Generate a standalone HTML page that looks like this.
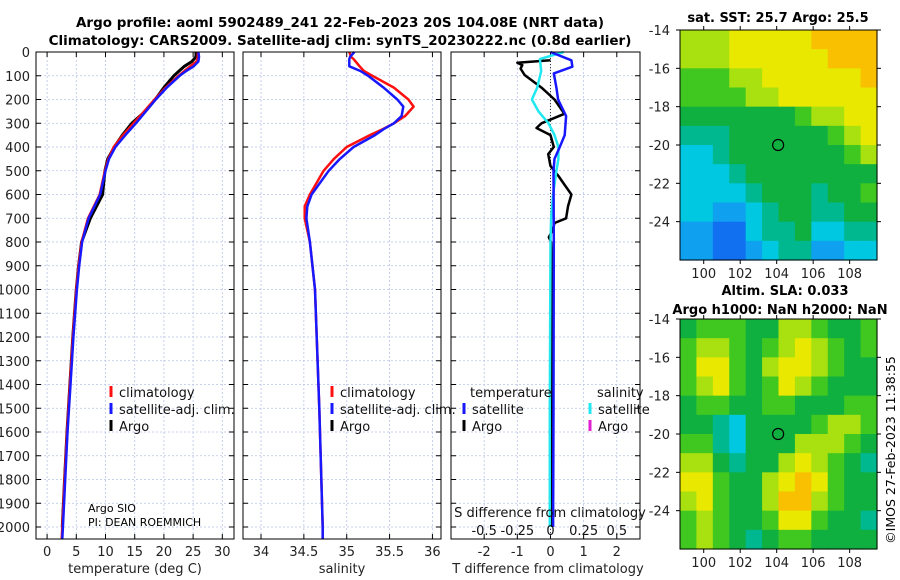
<!DOCTYPE html>
<html><head><meta charset="utf-8">
<style>
html,body{margin:0;padding:0;background:#fff;}
svg{display:block;font-family:"DejaVu Sans","Liberation Sans",sans-serif;}
</style></head>
<body>
<svg id="chart" width="900" height="580" viewBox="0 0 900 580" xmlns="http://www.w3.org/2000/svg">
<text x="340" y="27" text-anchor="middle" font-size="13.5" font-weight="bold">Argo profile: aoml 5902489_241 22-Feb-2023 20S 104.08E (NRT data)</text>
<text x="340" y="45" text-anchor="middle" font-size="13.5" font-weight="bold">Climatology: CARS2009. Satellite-adj clim: synTS_20230222.nc (0.8d earlier)</text>
<text x="778" y="22" text-anchor="middle" font-size="13" font-weight="bold">sat. SST: 25.7 Argo: 25.5</text>
<text x="785" y="295" text-anchor="middle" font-size="13" font-weight="bold">Altim. SLA: 0.033</text>
<text x="780" y="314" text-anchor="middle" font-size="13" font-weight="bold">Argo h1000: NaN h2000: NaN</text>
<text transform="translate(895,450) rotate(-90)" text-anchor="middle" font-size="12.5">©IMOS 27-Feb-2023 11:38:55</text>
<g id="plots"></g>
</svg>
<script>
// ---- profile data ----
const tDepth = [0,20,40,60,80,100,150,200,250,300,350,400,450,500,600,700,800,900,1000,1200,1400,1600,1800,2000,2050];
const tClim  = [25.8,25.8,25.6,24.5,23.5,22.5,20.3,18.4,16.6,14.8,13.0,11.4,10.5,9.9,9.0,7.0,5.9,5.4,5.0,4.4,3.9,3.4,3.0,2.6,2.5];
const tSat   = [25.9,26.0,25.9,25.1,23.8,22.7,20.5,18.6,16.9,15.2,13.4,11.7,10.6,10.0,9.1,7.1,6.0,5.5,5.1,4.5,4.0,3.5,3.1,2.7,2.6];
const tArgo  = [25.5,25.5,24.8,23.5,22.6,21.7,20.0,18.5,16.8,14.5,12.9,11.5,10.4,9.9,9.5,7.4,5.9,5.4,5.0,4.4,3.9,3.4,3.0,2.6];
const sDepth = [0,20,30,60,80,100,150,200,230,270,300,325,350,400,450,500,600,650,700,800,1000,1500,2000,2050];
const sClim  = [35.03,35.05,35.08,35.15,35.2,35.3,35.55,35.72,35.78,35.68,35.55,35.42,35.27,35.0,34.85,34.73,34.57,34.51,34.51,34.57,34.63,34.68,34.72,34.72];
const sSat   = [35.09,35.04,35.03,35.03,35.16,35.25,35.43,35.59,35.66,35.64,35.55,35.43,35.33,35.08,34.92,34.79,34.59,34.54,34.53,34.57,34.63,34.68,34.72,34.72];
const dTArgoDepth = [35,45,55,70,97,150,200,260,300,320,350,400,430,480,520,560,600,650,700,720,750,780,800,1000,1500,2000];
const dTArgo = [0,-1.0,-0.85,-0.9,-0.78,-0.27,0.12,0.42,-0.27,-0.42,0,0.1,-0.07,0,0.23,0.43,0.63,0.53,0.47,0.12,0.06,-0.05,0.02,0.05,0.05,0.04];
const dTSatDepth = [0,35,62,90,150,200,270,350,400,450,500,800,1500,2000];
const dTSat = [0,0.63,0.66,0.1,0.18,0.23,0.47,0.43,0.28,0.12,0.09,0.1,0.09,0.08];
const dSSatDepth = [0,30,80,150,200,250,300,350,400,450,500,600,700,800,1500,2000];
const dSSat = [0.1,-0.08,-0.07,-0.1,-0.14,-0.09,-0.015,0.03,0.06,0.06,0.045,0.02,0.005,0,-0.005,-0.005];
const depthTicks = [0,100,200,300,400,500,600,700,800,900,1000,1100,1200,1300,1400,1500,1600,1700,1800,1900,2000];
const tTicks = [0,5,10,15,20,25,30];
const sTicks = [34,34.5,35,35.5,36];
const sTickLabels = ["34","34.5","35","35.5","36"];
const dtTicks = [-2,-1,0,1,2];
const dsTicks = [-0.5,-0.25,0,0.25,0.5];
const dsTickLabels = ["-0.5","-0.25","0","0.25","0.5"];
// ---- map data (colour index 0..10) ----
const sstGrid = [
[7,7,7,8,8,8,8,8,9,9,9,9],
[7,7,7,8,8,8,8,8,8,9,9,9],
[6,6,6,7,7,8,8,8,8,8,8,9],
[6,6,6,6,7,7,8,8,8,8,8,8],
[5,5,5,5,5,5,5,6,7,7,8,8],
[4,4,4,5,5,5,5,5,5,6,7,8],
[3,3,4,5,5,5,5,5,5,5,6,7],
[3,3,3,4,5,5,5,5,5,5,5,5],
[3,3,3,3,4,5,5,5,4,5,5,6],
[3,3,2,2,3,4,5,5,4,4,5,5],
[2,2,1,1,3,4,4,5,3,3,4,4],
[2,2,1,1,2,3,4,4,2,2,3,3]];
const slaGrid = [
[5,6,6,6,5,5,7,7,6,5,5,6],
[6,7,7,6,5,6,7,8,7,6,5,6],
[6,8,8,6,5,7,8,8,7,6,5,5],
[6,7,8,6,5,6,8,7,6,5,5,5],
[5,6,6,5,5,6,6,5,5,5,6,6],
[5,5,4,3,5,5,5,5,6,7,7,6],
[6,6,4,3,5,5,5,7,7,7,6,5],
[7,7,5,4,5,5,7,8,7,6,5,4],
[8,8,6,5,5,7,8,9,8,6,5,5],
[7,8,6,5,5,7,9,9,7,6,5,5],
[6,7,6,5,5,6,8,8,6,5,5,4],
[6,7,6,5,4,5,6,6,5,5,5,5]];
const palette = ["#1048e0","#1070f0","#10a0f0","#00c8e0","#00b890","#10b040","#40c820","#a8e010","#e8e800","#f8c000","#f89000"];
const lonTicks = [100,102,104,106,108];
const latTicks = [-14,-16,-18,-20,-22,-24];
const argoLon = 104.08, argoLat = -20;

const NS="http://www.w3.org/2000/svg";
const root=document.getElementById('plots');
function mk(tag,attrs,parent){const e=document.createElementNS(NS,tag);for(const k in attrs)e.setAttribute(k,attrs[k]);(parent||root).appendChild(e);return e;}
function txt(s,x,y,attrs,parent){const e=mk('text',Object.assign({x:x,y:y,'font-size':13},attrs),parent);e.textContent=s;return e;}

const yTop=52,yBot=539;
function yD(d){return yTop+d*0.2375;}

function panel(name,x0,x1,xmin,xmax){
  const g=mk('g',{});
  
  
  const sx=v=>x0+(v-xmin)/(xmax-xmin)*(x1-x0);
  return {g,sx,x0,x1};
}
function frame(p,xt,xtl,showY){
  const g=p.g;
  // grid
  xt.forEach(v=>{const gl=mk('line',{x1:p.sx(v),x2:p.sx(v),y1:yTop,y2:yBot,stroke:'#b8c4e8','stroke-width':0.8,'stroke-dasharray':'2,2'},g);});
  depthTicks.forEach(d=>{const gl=mk('line',{x1:p.x0,x2:p.x1,y1:yD(d),y2:yD(d),stroke:'#b8c4e8','stroke-width':0.8,'stroke-dasharray':'2,2'},g);
    mk('line',{x1:p.x0,x2:p.x0+5,y1:yD(d),y2:yD(d),stroke:'#000'},g);mk('line',{x1:p.x1,x2:p.x1-5,y1:yD(d),y2:yD(d),stroke:'#000'},g);
    if(showY){const t=txt(String(d),30,yD(d)+5,{'text-anchor':'end','fill':'#222'},g);}
  });
  xt.forEach((v,i)=>{mk('line',{x1:p.sx(v),x2:p.sx(v),y1:yBot,y2:yBot-5,stroke:'#000'},g);mk('line',{x1:p.sx(v),x2:p.sx(v),y1:yTop,y2:yTop+5,stroke:'#000'},g);
    if(xtl){const t=txt(xtl[i],p.sx(v),556,{'text-anchor':'middle','fill':'#222'},g);}});
}
function border(p){const r=mk('rect',{x:p.x0,y:yTop,width:p.x1-p.x0,height:yBot-yTop,fill:'none',stroke:'#000','stroke-width':1},p.g);}
function line(p,xs,ds,color,w,name,scale){
  const pts=xs.map((v,i)=>p.sx(v*(scale||1)).toFixed(1)+','+yD(ds[i]).toFixed(1)).join(' ');
  const e=mk('polyline',{points:pts,fill:'none',stroke:color,'stroke-width':w,'stroke-linejoin':'round'},p.g);
  
  
}
function legend(g,x,y,color,label){
  mk('rect',{x:x-1.5,y:y-11,width:3,height:11,fill:color},g);
  const t=txt(label,x+8,y,{'fill':'#111'},g);
  
  
}

// Panel 1: temperature
const p1=panel('temperature-panel',36,234,-1.9,32);
frame(p1,tTicks,tTicks.map(String),true);
line(p1,tArgo,tDepth.slice(0,tArgo.length),'#000',3,'argo-temperature-line');
line(p1,tClim,tDepth,'#ff1010',2.5,'climatology-temperature-line');
line(p1,tSat,tDepth,'#1818ff',2.5,'satellite-temperature-line');
border(p1);
legend(p1.g,111,397,'#ff1010','climatology');
legend(p1.g,111,414,'#1818ff','satellite-adj. clim.');
legend(p1.g,111,431,'#000','Argo');
txt('Argo SIO',88,512,{'font-size':11},p1.g);
txt('PI: DEAN ROEMMICH',88,526,{'font-size':11},p1.g);
txt('temperature (deg C)',135,573,{'text-anchor':'middle','fill':'#222'},p1.g);

// Panel 2: salinity
const p2=panel('salinity-panel',243,441,33.79,36.1);
frame(p2,sTicks,sTickLabels,false);
line(p2,sClim,sDepth,'#ff1010',2.5,'climatology-salinity-line');
line(p2,sSat,sDepth,'#1818ff',2.5,'satellite-salinity-line');
border(p2);
legend(p2.g,332,397,'#ff1010','climatology');
legend(p2.g,332,414,'#1818ff','satellite-adj. clim.');
legend(p2.g,332,431,'#000','Argo');
txt('salinity',342,573,{'text-anchor':'middle','fill':'#222'},p2.g);

// Panel 3: differences (T units; S scaled x4)
const p3=panel('difference-panel',451,640,-3.0,2.7);
frame(p3,dtTicks,dtTicks.map(String),false);
mk('line',{x1:p3.sx(0),x2:p3.sx(0),y1:yTop,y2:yBot,stroke:'#333','stroke-width':1,'stroke-dasharray':'1,2'},p3.g);
line(p3,dTArgo,dTArgoDepth,'#000',2.5,'argo-temperature-difference-line');
line(p3,dSSat,dSSatDepth,'#20e8f0',2.5,'satellite-salinity-difference-line',4);
line(p3,dTSat,dTSatDepth,'#1818ff',2.5,'satellite-temperature-difference-line');
border(p3);
txt('temperature',470,397,{'fill':'#111'},p3.g);
txt('salinity',597,397,{'fill':'#111'},p3.g);
legend(p3.g,464,414,'#1818ff','satellite');
legend(p3.g,464,431,'#000','Argo');
legend(p3.g,590,414,'#20e8f0','satellite');
legend(p3.g,590,431,'#e020d0','Argo');
txt('S difference from climatology',550,517,{'text-anchor':'middle','fill':'#111'},p3.g);
dsTicks.forEach((v,i)=>{const t=txt(dsTickLabels[i],p3.sx(v*4),535,{'text-anchor':'middle','fill':'#111'},p3.g);});
txt('T difference from climatology',548,573,{'text-anchor':'middle','fill':'#222'},p3.g);

// Maps
function map(name,grid,y0,y1){
  const g=mk('g',{});
  
  
  const x0=680,x1=877,lon0=98.7,lon1=109.5,lat0=-14,lat1=-26;
  const sx=v=>x0+(v-lon0)/(lon1-lon0)*(x1-x0);
  const sy=v=>y0+(v-lat0)/(lat1-lat0)*(y1-y0);
  const rows=grid.length,cols=grid[0].length;
  const cw=(x1-x0)/cols,ch=(y1-y0)/rows;
  grid.forEach((row,r)=>row.forEach((v,c)=>{
    const cell=mk('rect',{x:(x0+c*cw).toFixed(2),y:(y0+r*ch).toFixed(2),width:(cw+0.6).toFixed(2),height:(ch+0.6).toFixed(2),fill:palette[v]},g);
    
    
  }));
  const b=mk('rect',{x:x0,y:y0,width:x1-x0,height:y1-y0,fill:'none',stroke:'#000'},g);
  
  
  lonTicks.forEach(v=>{mk('line',{x1:sx(v),x2:sx(v),y1:y1,y2:y1+4,stroke:'#000'},g);mk('line',{x1:sx(v),x2:sx(v),y1:y0,y2:y0-4,stroke:'#000'},g);
    const t=txt(String(v),sx(v),y1+18,{'text-anchor':'middle','fill':'#222'},g);});
  latTicks.forEach(v=>{mk('line',{x1:x0,x2:x0-4,y1:sy(v),y2:sy(v),stroke:'#000'},g);mk('line',{x1:x1,x2:x1+4,y1:sy(v),y2:sy(v),stroke:'#000'},g);
    const t=txt(String(v),670,sy(v)+5,{'text-anchor':'end','fill':'#222'},g);});
  const c=mk('circle',{cx:sx(argoLon),cy:sy(argoLat),r:5.5,fill:'none',stroke:'#000','stroke-width':1.2},g);
  
  
}
map('sst-map',sstGrid,30,260);
map('sla-map',slaGrid,319,549);
</script>
</body></html>
